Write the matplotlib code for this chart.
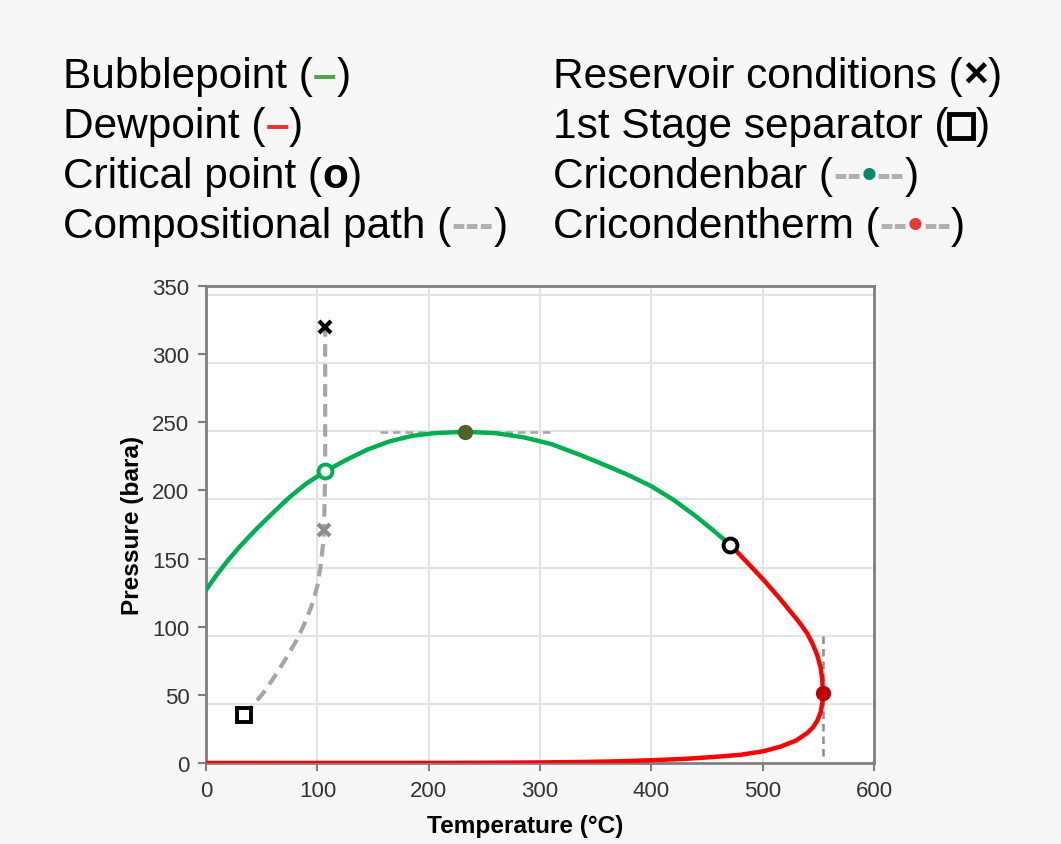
import numpy as np
import matplotlib.pyplot as plt
from matplotlib.lines import Line2D

plt.rcParams['font.family'] = ['Liberation Sans', 'DejaVu Sans']

# bubblepoint curve (green)
bubble_T = [0, 10, 20, 30, 45, 60, 75, 90, 107, 125, 145, 165, 185, 205, 233,
            260, 285, 310, 336, 360, 380, 400, 420, 440, 455, 471]
bubble_P = [127, 138.5, 149, 158.5, 171.5, 183.5, 195, 205, 214, 222, 230, 236, 240, 242, 243,
            242, 239, 234, 226, 218, 211, 203, 193, 181, 171, 160]

# dewpoint curve (red)
dew_T = [471, 485, 500, 515, 525, 533, 540, 545, 549, 552, 553.5, 554, 553.5, 552, 549, 545,
         540, 530, 516, 500, 480, 456, 430, 400, 370, 336, 300, 250, 200, 0]
dew_P = [160, 148, 135, 121, 111, 103, 95, 87, 79, 70, 61, 51, 44, 37, 31, 26,
         22, 16.5, 12, 8.5, 6, 4.4, 3, 2, 1.2, 0.7, 0.4, 0.15, 0.05, 0]

# compositional path (grey dashed)
path_T = [34, 42, 52, 62, 72, 82, 90, 96, 100, 103, 105, 106, 107, 107]
path_P = [35, 42, 52, 64, 77, 91, 105, 118, 130, 145, 160, 171, 214, 320]

critical = (471, 160)
reservoir = (107, 320)
res_bubble = (107, 214)
res_lower = (106, 171)
separator = (34, 35)
cricondenbar = (233, 243)
cricondenbar_span = (156, 309)
cricondentherm = (554, 51)
cricondentherm_span = (5, 97)

xticks = [0, 100, 200, 300, 400, 500, 600]
yticks = [0, 50, 100, 150, 200, 250, 300, 350]
grid_shift = 6.6  # horizontal gridlines sit a bit below the ticks in the original

fig = plt.figure(figsize=(10.61, 8.45), dpi=100)
fig.patch.set_facecolor('#f7f7f7')
ax = fig.add_axes([0.1942, 0.0959, 0.6296, 0.5645])
ax.set_facecolor('white')

for x in xticks[1:-1]:
    ax.axvline(x, color='#e3e3e3', lw=1.5, zorder=0)
for y in yticks[1:]:
    ax.axhline(y - grid_shift, color='#e3e3e3', lw=1.5, zorder=0)

ax.plot(path_T, path_P, color='#a6a6a6', lw=3, ls=(0, (3, 1.8)), zorder=2)
ax.plot(cricondenbar_span, [cricondenbar[1]] * 2, color='#a6a6a6', lw=1.8, ls=(0, (3, 2)), zorder=2)
ax.plot([cricondentherm[0]] * 2, cricondentherm_span, color='#8c8c8c', lw=1.8, ls=(0, (3, 2)), zorder=2)

ax.plot(bubble_T, bubble_P, color='#00b050', lw=3.2, solid_capstyle='round',
        solid_joinstyle='round', zorder=3)
ax.plot(dew_T, dew_P, color='#ff0000', lw=3.2, solid_capstyle='round',
        solid_joinstyle='round', zorder=3)

ax.plot(*cricondenbar, 'o', color='#4f6228', ms=10, zorder=4)
ax.plot(*cricondentherm, 'o', color='#c00000', ms=10, zorder=4)
ax.plot(*critical, 'o', mfc='white', mec='black', mew=2.8, ms=10, zorder=5)
ax.plot(*res_bubble, 'o', mfc='white', mec='#00b050', mew=2.8, ms=10, zorder=5)
ax.plot(*reservoir, 'x', color='black', mew=3, ms=8, zorder=5)
ax.plot(*res_lower, 'x', color='#8c8c8c', mew=3, ms=8, zorder=5)
ax.plot(*separator, 's', mfc='white', mec='black', mew=2.8, ms=10, zorder=5)

ax.set_xlim(0, 600)
ax.set_ylim(0, 350)
ax.set_xticks(xticks)
ax.set_yticks(yticks)
ax.tick_params(axis='both', labelsize=16, labelcolor='#333333', color='#7f7f7f',
               direction='out', length=6, width=1.5, pad=6)
for s in ax.spines.values():
    s.set_color('#7f7f7f')
    s.set_linewidth(2)
ax.set_xlabel('Temperature (°C)', fontsize=17.6, fontweight='bold')
ax.xaxis.set_label_coords(0.478, -0.108)
ax.set_ylabel('Pressure (bara)', fontsize=17.6, fontweight='bold', labelpad=6)

# header key written as text pieces
renderer = fig.canvas.get_renderer()
W = fig.get_figwidth() * fig.dpi
H = fig.get_figheight() * fig.dpi
fs = 30.5


def line_of_text(x, y, pieces):
    for txt, col, wt in pieces:
        if txt == 'SQUARE':
            fig.add_artist(Line2D([x + 13 / W], [y + 11 / H], marker='s', ms=17, mfc='none',
                                  mec='black', mew=3.5, transform=fig.transFigure))
            x += 27 / W
            continue
        t = fig.text(x, y, txt, fontsize=fs, color=col, fontweight=wt, va='baseline', ha='left')
        x += t.get_window_extent(renderer).width / W


grey = '#b0b0b0'
rows_left = [
    [('Bubblepoint (', 'black', 'normal'), ('–', '#4aa84a', 'bold'), (')', 'black', 'normal')],
    [('Dewpoint (', 'black', 'normal'), ('–', '#ee3333', 'bold'), (')', 'black', 'normal')],
    [('Critical point (', 'black', 'normal'), ('o', 'black', 'bold'), (')', 'black', 'normal')],
    [('Compositional path (', 'black', 'normal'), ('---', grey, 'bold'), (')', 'black', 'normal')],
]
rows_right = [
    [('Reservoir conditions (', 'black', 'normal'), ('×', 'black', 'bold'), (')', 'black', 'normal')],
    [('1st Stage separator (', 'black', 'normal'), ('SQUARE', 'black', 'bold'), (')', 'black', 'normal')],
    [('Cricondenbar (', 'black', 'normal'), ('--', grey, 'bold'), ('•', '#00896b', 'bold'),
     ('--', grey, 'bold'), (')', 'black', 'normal')],
    [('Cricondentherm (', 'black', 'normal'), ('--', grey, 'bold'), ('•', '#e53935', 'bold'),
     ('--', grey, 'bold'), (')', 'black', 'normal')],
]
row_base = [88, 138, 188, 238]
for py, left, right in zip(row_base, rows_left, rows_right):
    yf = 1 - py / H
    line_of_text(63 / W, yf, left)
    line_of_text(553 / W, yf, right)

fig.savefig('out.png', dpi=100, facecolor=fig.get_facecolor())
